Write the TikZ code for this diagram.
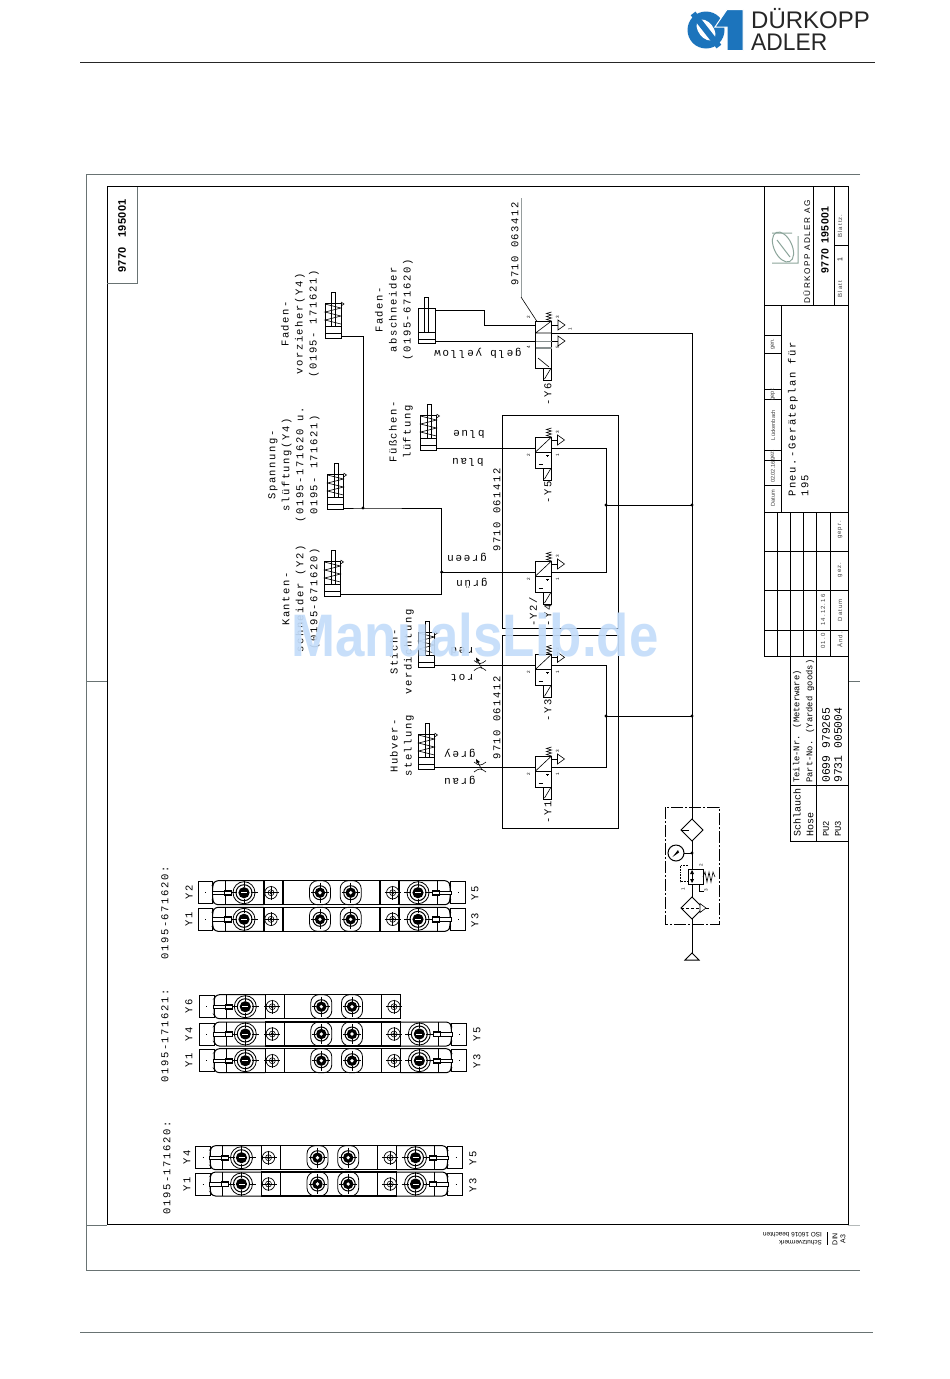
\documentclass[tikz,border=0pt]{standalone}
\usepackage{fontspec}
\setmainfont{Liberation Sans}
\newfontfamily\mfont[LetterSpace=15]{Liberation Mono}
\newfontfamily\nfont{Liberation Mono}
\newfontfamily\wfont[LetterSpace=18]{Liberation Sans}
\newfontfamily\bfontt[LetterSpace=4]{Liberation Sans Bold}
\usetikzlibrary{arrows.meta}
\definecolor{frameg}{RGB}{105,115,115}
\definecolor{dablue}{RGB}{28,116,188}
\definecolor{wmark}{RGB}{196,221,250}
\definecolor{logog}{RGB}{140,165,155}
\tikzset{
  wire/.style={line width=1pt,black},
  thin1/.style={line width=0.6pt,black},
  frm/.style={line width=0.8pt,frameg},
  box1/.style={line width=1pt,black},
  jdot/.style={circle,fill=black,inner sep=0pt,minimum size=3.4pt},
  lab/.style={rotate=90,inner sep=0pt,align=center,font=\mfont\fontsize{10.5}{14}\selectfont},
  ulab/.style={rotate=180,inner sep=0pt,font=\mfont\fontsize{11}{13}\selectfont},
  tab/.style={rotate=90,inner sep=0pt,anchor=west,font=\nfont\fontsize{8.8}{10}\selectfont},
  tiny1/.style={rotate=90,inner sep=0pt,font=\fontsize{4.6}{5}\selectfont},
  smallt/.style={rotate=90,inner sep=0pt,font=\wfont\fontsize{6}{7}\selectfont,text=black!75},
}
% valve: x,y0 = top-left of the body
\newcommand{\myvalve}[3]{%
  \draw[box1,fill=white] (#2,#3) rectangle (#2+16,#3+31);
  \draw[thin1] (#2,#3+15) -- (#2+16,#3+15);
  \draw[thin1] (#2,#3+15) -- (#2+16,#3);
  \draw[line width=0.5pt] (#2+3,#3+27) -- (#2+7,#3+27);
  \draw[line width=0.5pt] (#2+12,#3+18) -- (#2+12,#3+20) (#2+10.5,#3+18) -- (#2+13.5,#3+18);
  \draw[box1] (#2+8,#3+31) rectangle (#2+16,#3+43);
  \draw[thin1] (#2+9,#3+42) -- (#2+15,#3+32);
  \draw[thin1] (#2+16,#3) -- (#2+11,#3-1.5) -- (#2+16,#3-3) -- (#2+11,#3-4.5) -- (#2+16,#3-6) -- (#2+11,#3-7.5) -- (#2+16,#3-9);
  \draw[thin1] (#2+16,#3+3) -- (#2+22,#3+3);
  \draw[thin1,fill=white] (#2+22,#3-2) -- (#2+29,#3+3) -- (#2+22,#3+8) -- cycle;
  \node[tiny1] (#1n2) at (#2-7,#3+18) {2};
  \node[tiny1] (#1n1) at (#2+22,#3+18) {1};
  \node[tiny1] (#1n3) at (#2+22,#3-5) {3};
  \coordinate (#1l) at (#2,#3+11);
  \coordinate (#1r) at (#2+16,#3+11);
}
% spring cylinder: x,y = top-left
\newcommand{\myspcyl}[3]{%
  \draw[box1,fill=white] (#2,#3) rectangle (#2+16,#3+35);
  \draw[thin1] (#2,#3+23) -- (#2+16,#3+23) (#2,#3+30) -- (#2+16,#3+30);
  \draw[thin1] (#2,#3+1) -- (#2+16,#3+5) -- (#2,#3+9) -- (#2+16,#3+13) -- (#2,#3+17) -- (#2+16,#3+21);
  \draw[box1] (#2+6.5,#3-11) rectangle (#2+10.5,#3+23);
  \draw[thin1] (#2+16,#3-1) -- (#2+19,#3+1) -- (#2+16,#3+3);
  \coordinate (#1p) at (#2+16,#3+33);
}
% manifold pieces (x given for reference position 198)
\newcommand{\myport}[1]{%
  \draw[line width=0.7pt,fill=white] (#1,0) circle[radius=6.2];
  \draw[thin1] (#1,0) circle[radius=3];
  \draw[thin1] (#1,0) circle[radius=1.2];
  \draw[line width=0.5pt] (#1-8,0) -- (#1+8,0) (#1,-7) -- (#1,7);
}
\newcommand{\mycoil}[1]{%
  \draw[line width=0.8pt,fill=white] (#1,0) circle[radius=11];
  \draw[line width=1pt] (#1,0) circle[radius=8];
  \fill[black] (#1,0) circle[radius=5.6];
  \draw[white,line width=0.7pt] (#1-3,0) -- (#1+3,0);
  \draw[thin1] (#1-14,0) -- (#1-7,0) (#1+7,0) -- (#1+14,0) (#1,-12) -- (#1,-6) (#1,6) -- (#1,12);
}
\newcommand{\myoval}[1]{%
  \draw[line width=0.8pt,rounded corners=8pt] (#1-10.5,-12) rectangle (#1+10.5,12);
  \draw[line width=1pt] (#1,0) circle[radius=7];
  \fill[black] (#1,0) circle[radius=5.2];
  \fill[white] (#1,0) circle[radius=1.8];
  \draw[thin1] (#1-9,0) -- (#1-5,0) (#1+5,0) -- (#1+9,0) (#1,-10) -- (#1,-5) (#1,5) -- (#1,10);
}
\newcommand{\mymanifL}{%
  \draw[box1] (198,-11) rectangle (212.7,11);
  \draw[box1,rounded corners=3pt] (264,-12) -- (215,-12) -- (212.7,-8) -- (212.7,8) -- (215,12) -- (264,12);
  \draw[thin1] (225,-12) -- (225,12);
  \draw[thin1] (205,0) -- (206,0);
  \mycoil{244}
  \draw[thin1,fill=white] (212,-1.8) rectangle (231,1.8);
  \draw[thin1] (224,-2.6) rectangle (231,2.6);
  \draw[line width=1.2pt] (264,-12) rectangle (283,12);
  \myport{271}
}
\newcommand{\mymanifM}{%
  \draw[line width=1.3pt] (283,-12) -- (380,-12) (283,12) -- (380,12);
  \myoval{320}
  \myoval{350.7}
  \draw[line width=1.2pt] (380,-12) rectangle (399,12);
  \myport{392.7}
}
\newcommand{\mymanifR}{%
  \draw[box1] (450,-11) rectangle (465,11);
  \draw[box1,rounded corners=3pt] (399,-12) -- (448,-12) -- (450,-8) -- (450,8) -- (448,12) -- (399,12);
  \draw[thin1] (437,-12) -- (437,12);
  \draw[thin1] (458,0) -- (459,0);
  \mycoil{418}
  \draw[thin1,fill=white] (432,-1.8) rectangle (451,1.8);
  \draw[thin1] (432,-2.6) rectangle (439,2.6);
}
\newcommand{\mymanif}[2]{\begin{scope}[shift={(#1,#2)}]\mymanifL\mymanifM\mymanifR\end{scope}}
\newcommand{\mymanifS}[2]{\begin{scope}[shift={(#1,#2)}]\mymanifL\mymanifM\end{scope}}
\begin{document}
\begin{tikzpicture}[x=1pt,y=-1pt]
\useasboundingbox (0,0) rectangle (950,1379);
\fill[white] (0,0) rectangle (950,1379);

% header logo
\fill[dablue] (706,30) circle[radius=18.5];
\begin{scope}[shift={(706,30)},rotate=-52]
 \fill[white] (0,0) ellipse[x radius=12,y radius=7.5];
 \fill[dablue] (-21,-3) rectangle (21,3);
\end{scope}
\filldraw[dablue,draw=white,line width=1pt] (727,9.5) -- (743,9.5) -- (743,50.5) -- (727,50.5) -- (727,27) -- (715,27) -- cycle;
\node[anchor=base west,inner sep=0pt,font=\fontsize{24}{24}\selectfont,text=black!85] (brand1) at (751,28) {DÜRKOPP};
\node[anchor=base west,inner sep=0pt,font=\fontsize{24}{24}\selectfont,text=black!85,xscale=0.95] (brand2) at (751,50) {ADLER};
\draw[line width=0.9pt,black!85] (80,62.5) -- (875,62.5);
\draw[line width=0.9pt,frameg] (80,1332) -- (873,1332);

% outer frame
\draw[frm] (860,174.5) -- (86,174.5) -- (86,1270) -- (860,1270);
\draw[frm] (86,681) -- (107,681) (86,1225) -- (107,1225);
\draw[frameg!50,line width=0.7pt] (848,1225) -- (860,1225);
\draw[frm] (848,681) -- (860,681);
% inner frame
\draw[line width=1pt] (107.3,186.7) rectangle (848,1224.5);
\draw[frm] (107.3,283.3) -- (137.3,283.3) -- (137.3,186.7);
\node[rotate=90,inner sep=0pt,font=\bfontt\fontsize{11}{12}\selectfont] (dwg) at (122,236) {9770\,\,\,\,\,195001};

% title block
\draw[box1] (764.5,187) -- (764.5,656) -- (848,656);
\draw[box1] (764.5,305) -- (848,305);
\draw[box1] (813,187) -- (813,305) (834,187) -- (834,305) (834,245.7) -- (848,245.7);
\draw[box1] (781.7,305) -- (781.7,512.7);
\draw[thin1] (764.5,335) -- (781.7,335) (764.5,353) -- (781.7,353) (764.5,389) -- (781.7,389) (764.5,399) -- (781.7,399) (764.5,450) -- (781.7,450) (764.5,460) -- (781.7,460) (764.5,485) -- (781.7,485);
\draw[box1] (764.5,512.7) -- (848,512.7) (764.5,551.7) -- (848,551.7) (764.5,590.7) -- (848,590.7) (764.5,630) -- (848,630);
\draw[thin1] (777,512.7) -- (777,656) (790,512.7) -- (790,656) (803,512.7) -- (803,656) (816.7,512.7) -- (816.7,656) (830,512.7) -- (830,656);
\draw[box1] (790,656) -- (790,841) -- (848,841) (816.7,656) -- (816.7,841) (790,785) -- (848,785);
% logo mark
\begin{scope}[shift={(783,247)},rotate=25]
 \draw[logog,line width=1pt] (0,0) ellipse[x radius=9,y radius=16];
\end{scope}
\draw[logog,line width=1pt] (777,240) -- (790,257) (792,233) -- (772,233) (772,263) -- (798,263) -- (798,236);
\node[rotate=90,inner sep=0pt,font=\wfont\fontsize{8.2}{9}\selectfont] (co) at (806.7,252) {DÜRKOPP ADLER AG};
\node[rotate=90,inner sep=0pt,font=\bfontt\fontsize{10.5}{12}\selectfont] (dn) at (825,240) {9770\,\,\,195001};
\node[smallt] (bz) at (840,226) {Blattz.};
\node[smallt] (bl) at (840,289) {Blatt};
\node[rotate=90,inner sep=0pt,font=\fontsize{7}{8}\selectfont] (b1) at (840,260) {1};
\node[rotate=90,inner sep=0pt,anchor=west,font=\mfont\fontsize{10.5}{13}\selectfont] (t1) at (793,497) {Pneu.-Geräteplan für};
\node[rotate=90,inner sep=0pt,anchor=west,font=\mfont\fontsize{10.5}{13}\selectfont] (t2) at (805,497) {195};
\node[smallt,font=\fontsize{5.6}{6}\selectfont] (s1) at (773,498) {Datum};
\node[smallt,font=\fontsize{5.6}{6}\selectfont] (s2) at (773,472) {02.02.16};
\node[smallt,font=\fontsize{5.6}{6}\selectfont] (s3) at (773,455) {gez.};
\node[smallt,font=\fontsize{5.6}{6}\selectfont] (s4) at (773,425) {Lückenbach};
\node[smallt,font=\fontsize{5.6}{6}\selectfont] (s5) at (773,394) {gepr.};
\node[smallt,font=\fontsize{5.6}{6}\selectfont] (s6) at (773,344) {gen.};
\node[smallt] (r1) at (823,641) {01.0};
\node[smallt] (r2) at (823,610) {14.12.16};
\node[smallt] (r3) at (840,640) {Änd.};
\node[smallt] (r4) at (840,610) {Datum};
\node[smallt] (r5) at (840,570) {gez.};
\node[smallt] (r6) at (840,530) {gepr.};
\node[tab,font=\nfont\fontsize{10}{10}\selectfont] (h1) at (797,837) {Schlauch};
\node[tab,font=\nfont\fontsize{10}{10}\selectfont] (h2) at (810,837) {Hose};
\node[tab] (h3) at (797,783) {Teile-Nr. (Meterware)};
\node[tab] (h4) at (810,783) {Part-No. (Yarded goods)};
\node[tab] (h5) at (826,837) {PU2};
\node[tab] (h6) at (838,837) {PU3};
\node[tab,font=\nfont\fontsize{11.4}{10}\selectfont] (h7) at (826,783) {0699 979265};
\node[tab,font=\nfont\fontsize{11.4}{10}\selectfont] (h8) at (838,783) {9731 005004};

% protection note
\node[rotate=180,inner sep=0pt,anchor=west,font=\fontsize{6.4}{7}\selectfont] (pn1) at (822,1243) {Schutzvermerk};
\node[rotate=180,inner sep=0pt,anchor=west,font=\fontsize{6.4}{7}\selectfont] (pn2) at (822,1235) {ISO 16016 beachten};
\draw[thin1] (827,1232) -- (827,1245);
\node[rotate=90,inner sep=0pt,font=\fontsize{7}{8}\selectfont] (din) at (835,1239) {DIN};
\node[rotate=90,inner sep=0pt,font=\fontsize{7}{8}\selectfont] (a3) at (843,1239) {A3};

% boxes around valves
\draw[box1] (502.5,628) -- (502.5,415.5) -- (618.5,415.5) -- (618.5,628) -- cycle;
\draw[box1] (502.5,635.5) -- (618.5,635.5) -- (618.5,828) -- (502.5,828) -- cycle;

% cylinders
\myspcyl{cA}{325}{303}
\myspcyl{cB}{327.5}{474}
\myspcyl{cC}{324.5}{561}
\myspcyl{cD}{420.5}{415}
\myspcyl{cE}{418.5}{632}
\myspcyl{cF}{418.5}{734}
% Fadenabschneider cylinder
\draw[box1,fill=white] (418.5,308) rectangle (435,343);
\draw[thin1] (418.5,332) -- (435,332) (418.5,339) -- (435,339);
\draw[box1] (424.3,297) rectangle (428.3,332);
\coordinate (cGa) at (435,310);
\coordinate (cGb) at (435,341);

% valves
\myvalve{vY5}{535.5}{437}
\myvalve{vY2}{535.5}{561}
\myvalve{vY3}{535.5}{654.3}
\myvalve{vY1}{535.5}{756}
% valve Y6
\draw[box1,fill=white] (535.5,321) rectangle (551.5,368);
\draw[thin1] (535.5,333) -- (551.5,333) (535.5,333) -- (551.5,321);
\draw[frameg!80,line width=1pt] (535.5,341) -- (555,341);
\draw[frameg!80,line width=1.3pt] (535.5,348) -- (551.5,348);
\draw[thin1] (538,358) -- (549,367);
\draw[box1] (543.5,368) rectangle (551.5,380);
\draw[thin1] (544.5,379) -- (550.5,369);
\draw[thin1] (551.5,321) -- (546.5,319.5) -- (551.5,318) -- (546.5,316.5) -- (551.5,315) -- (546.5,313.5) -- (551.5,312);
\draw[thin1] (551.5,325) -- (558,325) (551.5,341) -- (558,341);
\draw[thin1,fill=white] (558,320) -- (565,325) -- (558,330) -- cycle;
\draw[thin1,fill=white] (558,336) -- (565,341) -- (558,346) -- cycle;
\node[tiny1] (p62) at (528.5,317) {2};
\node[tiny1] (p63) at (557.5,317) {3};
\node[tiny1] (p61) at (570,329) {1};
\node[tiny1] (p64) at (528.5,347) {4};
\node[tiny1] (p65) at (557.5,347) {5};
\coordinate (v6a) at (535.5,325);
\coordinate (v6b) at (535.5,341);
\coordinate (v6r) at (551.5,333);

% junctions and routes
\coordinate (jA) at (363,508);
\coordinate (jB) at (441.7,572);
\coordinate (jC) at (606,505);
\coordinate (jD) at (606,716);
\coordinate (jE) at (692,505);
\coordinate (jF) at (692,716);
\coordinate (tG) at (692,853);
\draw[wire] (cAp) -| (jA);
\draw[wire] (cBp |- jA) -- (jA) -- (441.7,508) -- (441.7,594) -- (cCp |- 0,594);
\draw[wire] (jB) -- (vY2l);
\draw[wire] (vY2r) -- (606,572) -- (606,448) -- (vY5r);
\draw[wire] (cDp |- vY5l) -- (vY5l);
\draw[wire] (cEp |- vY3l) -- (vY3l);
\draw[wire] (cFp |- vY1l) -- (vY1l);
\draw[wire] (vY3r) -- (606,665.3) -- (606,767) -- (vY1r);
\draw[wire] (jC) -- (jE);
\draw[wire] (jD) -- (jF);
\draw[wire] (cGa) -- (484.5,310) -- (484.5,325) -- (v6a);
\draw[wire] (cGb) -- (v6b);
\draw[wire] (v6r) -- (692,333) -- (692,953);
\foreach \n in {jA,jB,jC,jD,jE,jF,tG} \node[jdot] at (\n) {};

% throttles
\foreach \yy/\nm in {665.5/thE,767/thF}{
  \coordinate (\nm) at (480,\yy);
  \draw[thin1] (474,\yy-5) .. controls (479,\yy-1) and (481,\yy-1) .. (486,\yy-5);
  \draw[thin1] (474,\yy+5) .. controls (479,\yy+1) and (481,\yy+1) .. (486,\yy+5);
  \draw[thin1] (482,\yy+3) -- (477,\yy-6);
  \fill[black] (476,\yy-8) -- (480,\yy-5) -- (476.5,\yy-3.5) -- cycle;
}

% tube to Y6
\draw[frameg!70,line width=1pt] (521,198) -- (521,297);
\draw[thin1] (521,297) -- (537,321.5);

% labels
\node[lab] (l1) at (300,324) {Faden-\\vorzieher(Y4)\\(0195- 171621)};
\node[lab] (l2) at (294,465) {Spannung-\\slüftung(Y4)\\(0195-171620 u.\\0195- 171621)};
\node[lab] (l3) at (301,599) {Kanten-\\schneider (Y2)\\(0195-671620)};
\node[lab] (l4) at (394,310) {Faden-\\abschneider\\(0195-671620)};
\node[lab] (l5) at (401,432) {Füßchen-\\lüftung};
\node[lab] (l6) at (402,652) {Stich-\\verdichtung};
\node[lab] (l7) at (402,746) {Hubver-\\stellung};
\node[lab] (l8) at (515,244) {9710 063412};
\node[lab] (l9) at (497,510) {9710 061412};
\node[lab] (l10) at (497,718) {9710 061412};
\node[lab] (y6) at (548,394) {-Y6};
\node[lab] (y5) at (548,492) {-Y5};
\node[lab] (y2) at (533,612) {-Y2/};
\node[lab] (y4) at (548,615) {-Y4};
\node[lab] (y3) at (548,710) {-Y3};
\node[lab] (y1) at (548,812) {-Y1};
\node[ulab] (u1) at (478,353) {gelb yellow};
\node[ulab] (u2) at (469,434) {blue};
\node[ulab] (u3) at (468,462) {blau};
\node[ulab] (u4) at (467,557) {green};
\node[ulab] (u5) at (472,583) {grün};
\node[ulab] (u6) at (462,651) {red};
\node[ulab] (u7) at (462,678) {rot};
\node[ulab] (u8) at (460,753) {grey};
\node[ulab] (u9) at (460,780) {grau};

% service unit
\draw[line width=0.8pt,dash pattern=on 12pt off 2pt on 2pt off 2pt] (665,807) rectangle (719,924);
\draw[box1,fill=white] (692,819) -- (703,830) -- (692,841) -- (681,830) -- cycle;
\draw[thin1] (681,830) -- (689,830);
\coordinate (gauge) at (676,853);
\draw[box1,fill=white] (gauge) circle[radius=8];
\fill[black] (672.5,857) -- (678,850) -- (679,852.5) -- cycle;
\draw[thin1] (684,853) -- (tG);
\draw[box1,fill=white] (688,869) rectangle (703,884);
\draw[line width=0.6pt,densely dotted] (688,865) -- (680.5,865) -- (680.5,881.5) -- (688,881.5);
\draw[thin1] (692,871) -- (692,882);
\fill[black] (690,874) -- (692,870) -- (694,874) -- cycle;
\fill[black] (690,879) -- (692,883) -- (694,879) -- cycle;
\draw[thin1] (703,877) -- (705,872) -- (707,882) -- (709,872) -- (711,882) -- (713,872) -- (715,877);
\draw[thin1] (699,884) -- (699,891) -- (704,891);
\node[tiny1] (fr2) at (701,865) {2};
\node[tiny1] (fr1) at (683,889) {1};
\node[tiny1] (fr3) at (706,890) {3};
\draw[box1,fill=white] (692,897) -- (703,908) -- (692,919) -- (681,908) -- cycle;
\draw[thin1,densely dashed] (681,908) -- (703,908);
\draw[thin1,fill=white] (700,903.5) -- (706,908) -- (700,912.5) -- cycle;
\draw[thin1] (706,908) -- (709,908);
\draw[box1,fill=white] (692,953) -- (699,960) -- (685,960) -- cycle;

% manifolds
\mymanif{0}{892.7}
\mymanif{0}{919.3}
\mymanifS{1.3}{1006.7}
\mymanif{1.3}{1034}
\mymanif{1.3}{1060.7}
\mymanif{-2.5}{1157.7}
\mymanif{-2.5}{1184}
\node[lab] (m1) at (165,913) {0195-671620:};
\node[lab] (m2) at (165,1036) {0195-171621:};
\node[lab] (m3) at (167,1168) {0195-171620:};
\foreach \x/\y/\t/\n in {189/892/Y2/a1,189/919/Y1/a2,475/893/Y5/a3,475/920/Y3/a4,189/1006/Y6/a5,189/1034/Y4/a6,189/1060/Y1/a7,477/1034/Y5/a8,477/1061/Y3/a9,187/1157/Y4/a10,187/1184/Y1/a11,473/1158/Y5/a12,473/1185/Y3/a13}{
  \node[lab] (\n) at (\x,\y) {\t};
}

% watermark
\node[inner sep=0pt,opacity=0.92,text=wmark,font=\fontsize{60}{60}\selectfont\bfseries,xscale=0.88] (wm) at (475,635) {ManualsLib.de};
\end{tikzpicture}
\end{document}
